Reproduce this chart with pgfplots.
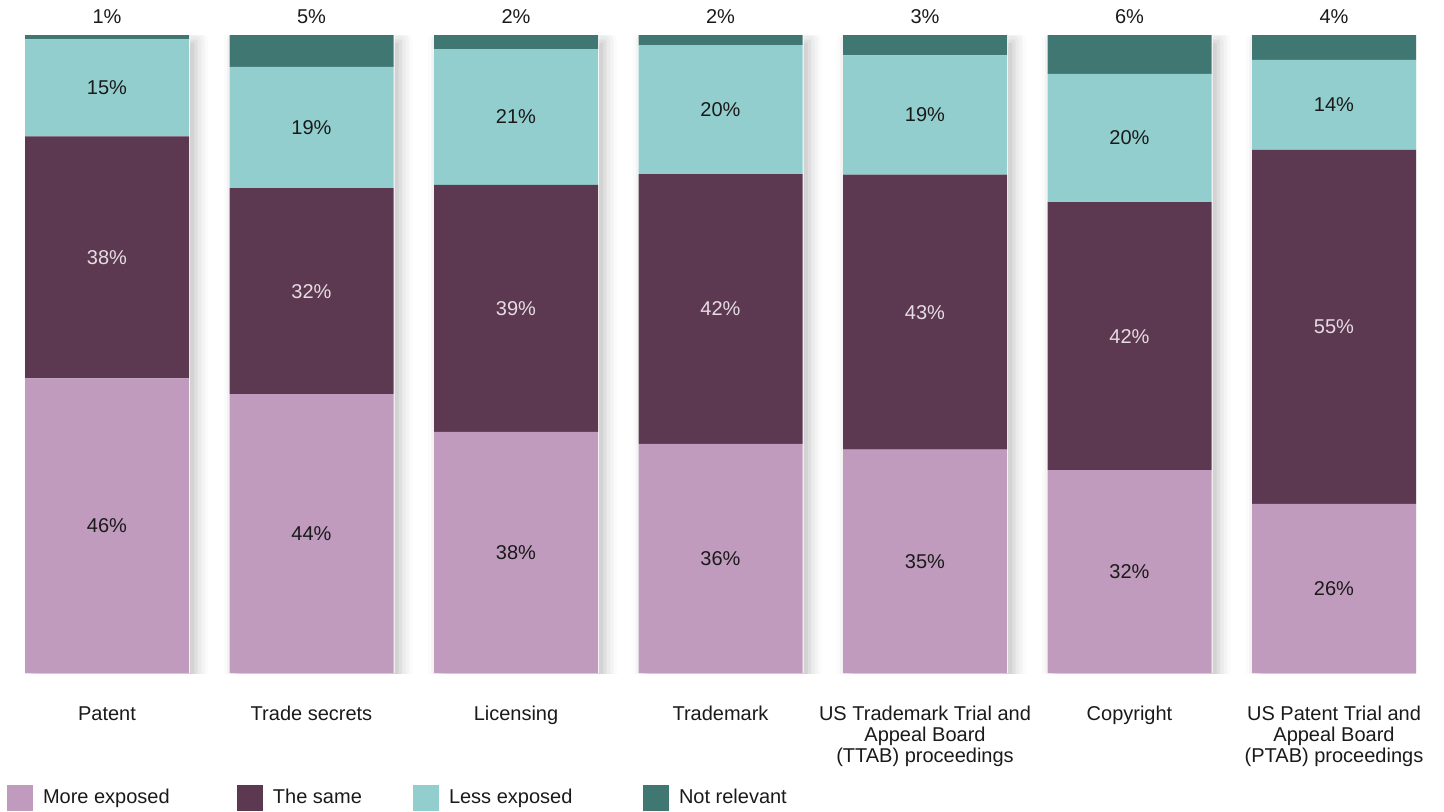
\documentclass[border=0pt]{standalone}
\usepackage{pgfplots}
\pgfplotsset{compat=1.18}
\usepackage{fontspec}
\setmainfont{Liberation Sans}
\usetikzlibrary{shadows.blur}

\definecolor{cMore}{HTML}{C09BBE}
\definecolor{cSame}{HTML}{5C3950}
\definecolor{cLess}{HTML}{93CECE}
\definecolor{cNone}{HTML}{417773}
\definecolor{txt}{HTML}{1A1A1A}
\definecolor{txtlight}{HTML}{E6DCE3}

% 1px of the reference = 0.5pt here; 100% = 319pt
\pgfplotsset{
  base/.style={
    scale only axis, width=695.5pt, height=319pt,
    at={(0,0)}, anchor=south west,
    xmin=-0.401, xmax=6.401, ymin=0, ymax=100,
  },
  sq/.style={legend image code/.code={\fill[##1,draw=none] (0pt,-6.5pt) rectangle (13pt,6.5pt);}},
  % stacked labels already sit in the middle of their segment
  mid/.style={nodes near coords={\pgfplotspointmeta\%},
    every node near coord/.append style={anchor=center,
      font=\fontsize{10}{12}\selectfont, text=#1}},
}

\begin{document}
\begin{tikzpicture}
\path[use as bounding box] (-12.5pt,-69pt) rectangle (709.5pt,336.5pt);

% shadow layer under the bars (totals = 100%)
\begin{axis}[base, hide axis, ybar, bar width=82.5pt, bar shift=0.25pt]
\addplot[fill=white, draw=none,
  blur shadow={shadow xshift=3pt, shadow yshift=-3pt, shadow blur radius=6pt, shadow opacity=25}]
  coordinates {(0,100) (1,100) (2,100) (3,100) (4,100) (5,100) (6,100)};
\end{axis}

\begin{axis}[base, ybar stacked, bar width=82pt,
  axis line style={draw=none}, xtick style={draw=none}, ytick=\empty,
  xtick={0,...,6},
  xticklabels={Patent, Trade secrets, Licensing, Trademark,
    {US Trademark Trial and\\Appeal Board\\(TTAB) proceedings}, Copyright,
    {US Patent Trial and\\Appeal Board\\(PTAB) proceedings}},
  xticklabel style={align=center, anchor=north, inner sep=0pt, yshift=-16.5pt,
    font=\fontsize{10}{10.5}\selectfont, text=txt},
  point meta=explicit symbolic,
  legend columns=4,
  legend style={at={(-0.01294,-0.19514)}, anchor=west, draw=none, fill=none,
    inner sep=0pt, outer sep=0pt, font=\fontsize{10}{12}\selectfont, text=txt,
    nodes={inner sep=0pt}, /tikz/every odd column/.append style={column sep=5pt}},
]

\addplot[fill=cMore, draw=none, sq, mid=txt] coordinates {
  (0,46.2) [46] (1,43.7) [44] (2,37.8) [38] (3,35.9) [36]
  (4,35.0) [35] (5,31.8) [32] (6,26.5) [26]};
\addlegendentry{\makebox[97pt][l]{More exposed}}

\addplot[fill=cSame, draw=none, sq, mid=txtlight] coordinates {
  (0,37.9) [38] (1,32.3) [32] (2,38.7) [39] (3,42.3) [42]
  (4,43.1) [43] (5,42.0) [42] (6,55.5) [55]};
\addlegendentry{\makebox[70pt][l]{The same}}

\addplot[fill=cLess, draw=none, sq, mid=txt] coordinates {
  (0,15.2) [15] (1,19.0) [19] (2,21.3) [21] (3,20.2) [20]
  (4,18.7) [19] (5,20.1) [20] (6,14.1) [14]};
\addlegendentry{\makebox[97pt][l]{Less exposed}}

\addplot[fill=cNone, draw=none, sq, nodes near coords={\pgfplotspointmeta\%},
  visualization depends on={rawy \as \rawy},
  every node near coord/.append style={anchor=base, yshift=5.75pt+1.595pt*\rawy,
    font=\fontsize{10}{12}\selectfont, text=txt}] coordinates {
  (0,0.7) [1] (1,5.0) [5] (2,2.2) [2] (3,1.6) [2]
  (4,3.2) [3] (5,6.1) [6] (6,3.9) [4]};
\addlegendentry{Not relevant}

\end{axis}
\end{tikzpicture}
\end{document}
